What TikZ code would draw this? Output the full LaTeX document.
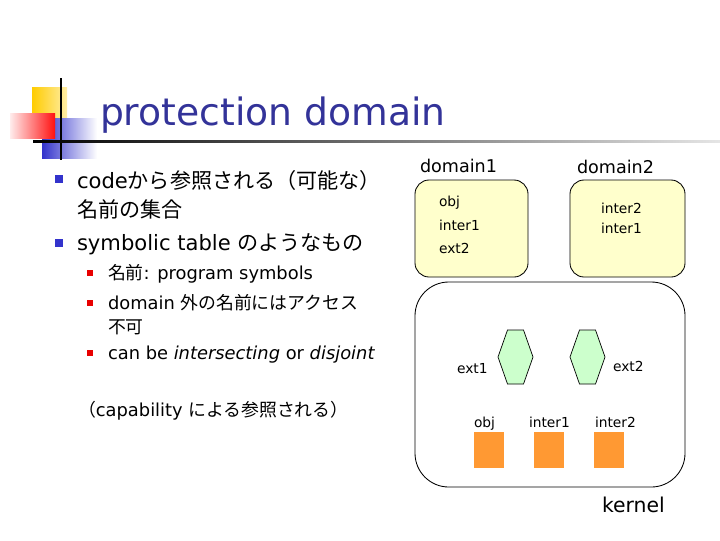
\documentclass[tikz,border=0pt]{standalone}
\usepackage{fontspec}
\setmainfont{DejaVu Sans}
\newfontfamily\jpfont{Noto Sans CJK JP}
\definecolor{TitleBlue}{HTML}{333399}
\definecolor{BulletBlue}{HTML}{3333CC}
\definecolor{BulletRed}{HTML}{E80000}
\definecolor{DecoYellow}{HTML}{FFCC00}
\definecolor{DecoRed}{HTML}{FF1010}
\definecolor{DecoBlue}{HTML}{3333CC}
\definecolor{DomainYellow}{HTML}{FFFFCC}
\definecolor{ExtGreen}{HTML}{CCFFCC}
\definecolor{ObjOrange}{HTML}{FF9933}

\begin{document}
\begin{tikzpicture}[x=0.025cm,y=-0.025cm, every node/.style={inner sep=0pt, outer sep=0pt}]
  \useasboundingbox[fill=white] (0,0) rectangle (720,540);
  % title decoration
  \shade[left color=DecoYellow, right color=DecoYellow!35] (32,87) rectangle (67,118);
  \shade[left color=DecoBlue, right color=white] (42,118) rectangle (97,158);
  \shade[left color=DecoRed!8, right color=DecoRed] (10,113) rectangle (55,138);
  \draw[line width=1.4pt] (61,78) -- (61,160);
  \shade[left color=black, right color=black!10] (33,140) rectangle (720,142.5);
  \node[anchor=base west, font=\fontsize{26.8}{30}\selectfont, text=TitleBlue] (title) at (100,125) {protection domain};
  % bullets
  \foreach \y in {179,243} \fill[BulletBlue] (55,\y-4) rectangle (63,\y+4);
  \foreach \y in {273,303,353} \fill[BulletRed] (87,\y-3) rectangle (93,\y+3);
  \tikzset{maintext/.style={anchor=base west, font=\fontsize{15}{18}\selectfont},
           subtext/.style={anchor=base west, font=\fontsize{12.7}{15}\selectfont}}
  \node[maintext] (codeline) at (77,188) {code{\jpfont から参照される（可能な）}};
  \node[maintext] (setline) at (77,217) {{\jpfont 名前の集合}};
  \node[maintext] (tableline) at (77,250) {symbolic table {\jpfont のようなもの}};
  \node[subtext] (nameline) at (108,279) {{\jpfont 名前}: program symbols};
  \node[subtext] (outline) at (108,309) {domain {\jpfont 外の名前にはアクセス}};
  \node[subtext] (noline) at (108,333) {{\jpfont 不可}};
  \node[subtext] (canline) at (108,359) {can be \textit{intersecting} or \textit{disjoint}};
  \node[subtext] (capline) at (78,416) {{\jpfont （}capability {\jpfont による参照される）}};
  % domains
  \tikzset{label/.style={anchor=base west, font=\fontsize{9.8}{11}\selectfont}}
  \draw[fill=DomainYellow, rounded corners=10pt, line width=0.6pt] (415,180) rectangle (528,277);
  \draw[fill=DomainYellow, rounded corners=10pt, line width=0.6pt] (570,180) rectangle (685,277);
  \draw[rounded corners=24pt, line width=0.6pt] (415,282) rectangle (685,487);
  \node[anchor=base west, font=\fontsize{12.5}{15}\selectfont] (dom1) at (420,172) {domain1};
  \node[anchor=base west, font=\fontsize{12.5}{15}\selectfont] (dom2) at (577,173) {domain2};
  \node[label] (d1obj) at (439,206) {obj};
  \node[label] (d1inter) at (439,230) {inter1};
  \node[label] (d1ext) at (439,253) {ext2};
  \node[label] (d2intera) at (601,213) {inter2};
  \node[label] (d2interb) at (601,233) {inter1};
  % kernel
  \foreach \cx/\nm in {515.5/gatea,587.5/gateb} {
    \draw[fill=ExtGreen, line width=0.5pt] (\cx-8,330) -- (\cx+8,330) -- (\cx+17.5,357)
      -- (\cx+8,384) -- (\cx-8,384) -- (\cx-17.5,357) -- cycle;
    \coordinate (\nm) at (\cx,357);
  }
  \node[label] (exta) at (457,373) {ext1};
  \node[label] (extb) at (613,371) {ext2};
  \foreach \x in {474,534,594}
    \fill[ObjOrange] (\x,432) rectangle (\x+30,468);
  \node[label] (kobj) at (474,427) {obj};
  \node[label] (kintera) at (529,427) {inter1};
  \node[label] (kinterb) at (595,427) {inter2};
  \node[anchor=base west, font=\fontsize{14.5}{17}\selectfont] (kernel) at (602,512) {kernel};
\end{tikzpicture}
\end{document}
